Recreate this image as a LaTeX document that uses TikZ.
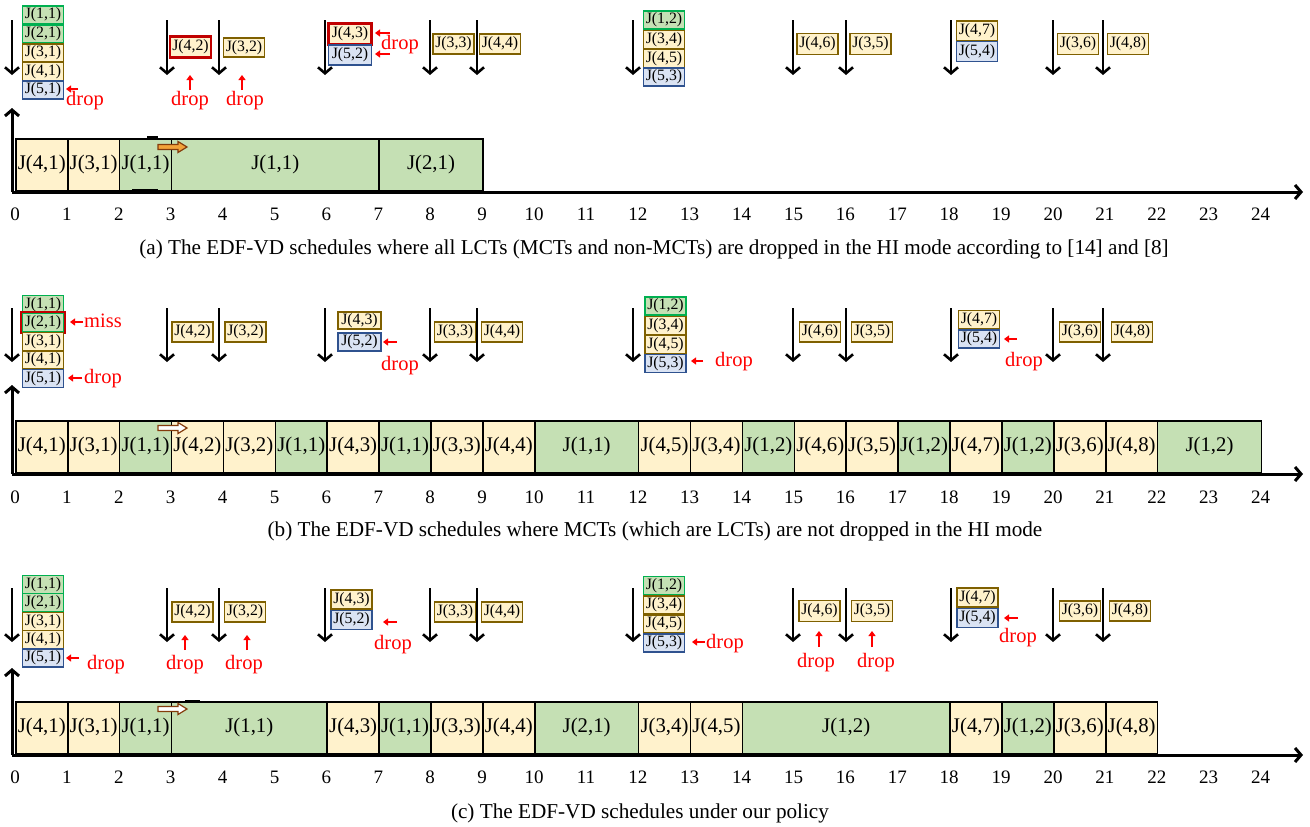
\documentclass[tikz,border=0pt]{standalone}
\usepackage{fontspec}
\setmainfont{Liberation Serif}
\usetikzlibrary{arrows.meta}
\definecolor{cgreen}{HTML}{00B050}
\definecolor{cbrown}{HTML}{7F6000}
\definecolor{cblue}{HTML}{2F528F}
\definecolor{cred}{HTML}{C00000}
\definecolor{fgreen}{HTML}{C5E0B4}
\definecolor{fyellow}{HTML}{FFF2CC}
\definecolor{fblue}{HTML}{DAE3F3}
\definecolor{dropred}{HTML}{FF0000}
\definecolor{horange}{HTML}{F2A33A}
\definecolor{hbrown}{HTML}{843C0C}
\tikzset{
  barbox/.style={draw=black, line width=1.6pt, inner sep=0pt, minimum height=52pt, font=\fontsize{20.8}{21}\selectfont},
  gbar/.style={barbox, fill=fgreen},
  ybar/.style={barbox, fill=fyellow},
  sb/.style={draw, line width=1.5pt, inner sep=0pt, minimum width=41pt, minimum height=18pt, font=\fontsize{15.8}{16}\selectfont},
  sg/.style={sb, draw=cgreen, fill=fgreen},
  sy/.style={sb, draw=cbrown, fill=fyellow},
  sbl/.style={sb, draw=cblue, fill=fblue},
  sr/.style={sb, draw=cred, fill=fyellow, line width=2.3pt},
  rel/.style={line width=2.6pt, -{Straight Barb[length=6pt,width=14pt]}},
  axisarr/.style={line width=3pt, -{Straight Barb[length=6pt,width=14pt]}},
  redarr/.style={draw=dropred, line width=2.4pt, -{Triangle[length=5pt,width=7pt]}},
  droptxt/.style={text=dropred, inner sep=0pt, font=\fontsize{20.5}{21}\selectfont},
  tick/.style={inner sep=0pt, font=\fontsize{19}{19}\selectfont},
  capt/.style={inner sep=0pt, font=\fontsize{21.2}{22}\selectfont},
  hiarr/.style={draw=hbrown, line width=1.2pt},
}
\newcommand\jobbar[6]{\node[#5,minimum width={(#3-#2)*51.9pt},anchor=north west] (#1) at ({15+51.9*#2},#4) {#6};}
\newcommand\relarrows[2]{\foreach \rx in {12,167,219,325,430,477,633,793,846,951,1053,1103} \draw[rel] (\rx,#1) -- (\rx,#2);}
\newcommand\hiarrow[2]{\draw[hiarr, fill=#2] (158,#1-2.5) -- (178,#1-2.5) -- (178,#1-5.5) -- (187,#1) -- (178,#1+5.5) -- (178,#1+2.5) -- (158,#1+2.5) -- cycle;}
\begin{document}
\begin{tikzpicture}[x=1pt,y=-1pt]
\useasboundingbox (0,0) rectangle (1310,827);
% ================= panel (a) =================
\relarrows{20}{75}
\node[sg] (a-s11) at (43,15) {J(1,1)};
\node[sg] (a-s21) at (43,34) {J(2,1)};
\node[sy] (a-s31) at (43,53) {J(3,1)};
\node[sy] (a-s41) at (43,71.5) {J(4,1)};
\node[sbl] (a-s51) at (43,90) {J(5,1)};
\coordinate (a-d1s) at (78,89); \coordinate (a-d1e) at (66,89);
\draw[redarr] (a-d1s) -- (a-d1e);
\node[droptxt] (a-d1) at (85,101) {drop};
\node[sr, minimum height=21pt] (a-s42) at (190.5,47) {J(4,2)};
\node[sy, minimum height=19pt] (a-s32) at (244,47.5) {J(3,2)};
\coordinate (a-u1s) at (190,90); \coordinate (a-u1e) at (190,75);
\coordinate (a-u2s) at (242,90); \coordinate (a-u2e) at (242,75);
\draw[redarr] (a-u1s) -- (a-u1e);
\draw[redarr] (a-u2s) -- (a-u2e);
\node[droptxt] (a-d2) at (190,101) {drop};
\node[droptxt] (a-d3) at (245,101) {drop};
\node[sr, minimum height=21pt, minimum width=43pt] (a-s43) at (350,34) {J(4,3)};
\node[sbl, minimum height=20pt, minimum width=43pt] (a-s52) at (350,55) {J(5,2)};
\coordinate (a-r1s) at (390,33); \coordinate (a-r1e) at (375,33);
\coordinate (a-r2s) at (390,54); \coordinate (a-r2e) at (375,54);
\draw[redarr] (a-r1s) -- (a-r1e);
\draw[redarr] (a-r2s) -- (a-r2e);
\node[droptxt] (a-d4) at (400,45) {drop};
\node[sy, minimum height=20pt] (a-s33) at (453.5,44) {J(3,3)};
\node[sy, minimum height=20pt] (a-s44) at (500,44) {J(4,4)};
\node[sg] (a-s12) at (664,20) {J(1,2)};
\node[sy] (a-s34) at (664,39.5) {J(3,4)};
\node[sy] (a-s45) at (664,58.5) {J(4,5)};
\node[sbl] (a-s53) at (664,77) {J(5,3)};
\node[sy, minimum height=21pt] (a-s46) at (817.5,44) {J(4,6)};
\node[sy, minimum height=21pt] (a-s35) at (870.5,44) {J(3,5)};
\node[sy, minimum height=20pt] (a-s47) at (977,31) {J(4,7)};
\node[sbl, minimum height=20pt] (a-s54) at (977,51.5) {J(5,4)};
\node[sy, minimum height=21pt] (a-s36) at (1078,44) {J(3,6)};
\node[sy, minimum height=21pt] (a-s48) at (1128,44) {J(4,8)};
% bars (a)
\jobbar{a1}{0}{1}{138}{ybar}{J(4,1)}
\jobbar{a2}{1}{2}{138}{ybar}{J(3,1)}
\jobbar{a3}{2}{3}{138}{gbar}{J(1,1)}
\jobbar{a4}{3}{7}{138}{gbar}{J(1,1)}
\jobbar{a5}{7}{9}{138}{gbar}{J(2,1)}
\draw[line width=3pt] (147,137.5) -- (158,137.5);
\draw[line width=3pt] (132,190) -- (158,190);
\hiarrow{147}{horange}
\coordinate (a-o) at (12,192); \coordinate (a-xe) at (1303,192); \coordinate (a-ye) at (12,108);
\draw[axisarr] (a-o) -- (a-xe);
\draw[axisarr] (a-o) -- (a-ye);
\foreach \t in {0,...,24} \node[tick] (a-t\t) at ({15+51.9*\t},214) {\t};
\node[capt] (a-cap) at (654,249) {(a) The EDF-VD schedules where all LCTs (MCTs and non-MCTs) are dropped in the HI mode according to [14] and [8]};
% ================= panel (b) =================
\relarrows{308}{362}
\node[sg] (b-s11) at (43,304.5) {J(1,1)};
\draw[cred, line width=1.2pt] (21,312) rectangle (65,333);
\node[sg] (b-s21) at (43,322.5) {J(2,1)};
\node[sy] (b-s31) at (43,341.5) {J(3,1)};
\node[sy] (b-s41) at (43,360) {J(4,1)};
\node[sbl] (b-s51) at (43,378.5) {J(5,1)};
\coordinate (b-m1s) at (83,322); \coordinate (b-m1e) at (70,322);
\draw[redarr] (b-m1s) -- (b-m1e);
\node[droptxt, anchor=west] (b-miss) at (84,321) {miss};
\coordinate (b-d1s) at (82,378); \coordinate (b-d1e) at (68,378);
\draw[redarr] (b-d1s) -- (b-d1e);
\node[droptxt, anchor=west] (b-d1) at (84,379) {drop};
\node[sy, minimum height=20pt] (b-s42) at (192.5,332) {J(4,2)};
\node[sy, minimum height=20pt] (b-s32) at (245.5,332) {J(3,2)};
\node[sy, minimum height=17pt, minimum width=43pt] (b-s43) at (359.5,320.5) {J(4,3)};
\node[sbl, minimum width=43pt] (b-s52) at (359.5,342) {J(5,2)};
\coordinate (b-r1s) at (397,342); \coordinate (b-r1e) at (383,342);
\draw[redarr] (b-r1s) -- (b-r1e);
\node[droptxt] (b-d2) at (400,366) {drop};
\node[sy, minimum height=20pt] (b-s33) at (455,332) {J(3,3)};
\node[sy, minimum height=20pt] (b-s44) at (502,332) {J(4,4)};
\node[sg] (b-s12) at (665.5,306) {J(1,2)};
\node[sy] (b-s34) at (665.5,325.5) {J(3,4)};
\node[sy] (b-s45) at (665.5,344.5) {J(4,5)};
\node[sbl] (b-s53) at (665.5,363.5) {J(5,3)};
\coordinate (b-r2s) at (703,361); \coordinate (b-r2e) at (691,361);
\draw[redarr] (b-r2s) -- (b-r2e);
\node[droptxt, anchor=west] (b-d3) at (715,362) {drop};
\node[sy, minimum height=20pt] (b-s46) at (820,332) {J(4,6)};
\node[sy, minimum height=20pt] (b-s35) at (872,332) {J(3,5)};
\node[sy] (b-s47) at (979,319.5) {J(4,7)};
\node[sbl] (b-s54) at (979,339) {J(5,4)};
\coordinate (b-r3s) at (1017,339); \coordinate (b-r3e) at (1004,339);
\draw[redarr] (b-r3s) -- (b-r3e);
\node[droptxt] (b-d4) at (1024,362) {drop};
\node[sy, minimum height=20pt] (b-s36) at (1080,332) {J(3,6)};
\node[sy, minimum height=20pt] (b-s48) at (1132,332) {J(4,8)};
% bars (b)
\jobbar{b1}{0}{1}{420}{ybar}{J(4,1)}
\jobbar{b2}{1}{2}{420}{ybar}{J(3,1)}
\jobbar{b3}{2}{3}{420}{gbar}{J(1,1)}
\jobbar{b4}{3}{4}{420}{ybar}{J(4,2)}
\jobbar{b5}{4}{5}{420}{ybar}{J(3,2)}
\jobbar{b6}{5}{6}{420}{gbar}{J(1,1)}
\jobbar{b7}{6}{7}{420}{ybar}{J(4,3)}
\jobbar{b8}{7}{8}{420}{gbar}{J(1,1)}
\jobbar{b9}{8}{9}{420}{ybar}{J(3,3)}
\jobbar{b10}{9}{10}{420}{ybar}{J(4,4)}
\jobbar{b11}{10}{12}{420}{gbar}{J(1,1)}
\jobbar{b12}{12}{13}{420}{ybar}{J(4,5)}
\jobbar{b13}{13}{14}{420}{ybar}{J(3,4)}
\jobbar{b14}{14}{15}{420}{gbar}{J(1,2)}
\jobbar{b15}{15}{16}{420}{ybar}{J(4,6)}
\jobbar{b16}{16}{17}{420}{ybar}{J(3,5)}
\jobbar{b17}{17}{18}{420}{gbar}{J(1,2)}
\jobbar{b18}{18}{19}{420}{ybar}{J(4,7)}
\jobbar{b19}{19}{20}{420}{gbar}{J(1,2)}
\jobbar{b20}{20}{21}{420}{ybar}{J(3,6)}
\jobbar{b21}{21}{22}{420}{ybar}{J(4,8)}
\jobbar{b22}{22}{24}{420}{gbar}{J(1,2)}
\hiarrow{428}{white}
\coordinate (b-o) at (12,474); \coordinate (b-xe) at (1303,474); \coordinate (b-ye) at (12,385);
\draw[axisarr] (b-o) -- (b-xe);
\draw[axisarr] (b-o) -- (b-ye);
\foreach \t in {0,...,24} \node[tick] (b-t\t) at ({15+51.9*\t},497) {\t};
\node[capt] (b-cap) at (655,531) {(b) The EDF-VD schedules where MCTs (which are LCTs) are not dropped in the HI mode};
% ================= panel (c) =================
\relarrows{588}{642}
\node[sg] (c-s11) at (43,584.5) {J(1,1)};
\node[sg] (c-s21) at (43,602.5) {J(2,1)};
\node[sy] (c-s31) at (43,621.5) {J(3,1)};
\node[sy] (c-s41) at (43,639.5) {J(4,1)};
\node[sbl] (c-s51) at (43,658) {J(5,1)};
\coordinate (c-d1s) at (79,658); \coordinate (c-d1e) at (66,658);
\draw[redarr] (c-d1s) -- (c-d1e);
\node[droptxt] (c-d1) at (106,665) {drop};
\node[sy, minimum height=20pt] (c-s42) at (192.5,612) {J(4,2)};
\node[sy, minimum height=20pt] (c-s32) at (245,612) {J(3,2)};
\coordinate (c-u1s) at (185,650); \coordinate (c-u1e) at (185,635);
\coordinate (c-u2s) at (247,650); \coordinate (c-u2e) at (247,635);
\draw[redarr] (c-u1s) -- (c-u1e);
\draw[redarr] (c-u2s) -- (c-u2e);
\node[droptxt] (c-d2) at (185,665) {drop};
\node[droptxt] (c-d3) at (244,665) {drop};
\node[sy, minimum height=19pt] (c-s43) at (351.5,599.5) {J(4,3)};
\node[sbl, minimum height=19pt] (c-s52) at (351.5,620) {J(5,2)};
\coordinate (c-r1s) at (397,622); \coordinate (c-r1e) at (383,622);
\draw[redarr] (c-r1s) -- (c-r1e);
\node[droptxt] (c-d4) at (393,645) {drop};
\node[sy, minimum height=20pt] (c-s33) at (455,612) {J(3,3)};
\node[sy, minimum height=20pt] (c-s44) at (502,612) {J(4,4)};
\node[sg] (c-s12) at (664,585.5) {J(1,2)};
\node[sy] (c-s34) at (664,605) {J(3,4)};
\node[sy] (c-s45) at (664,624) {J(4,5)};
\node[sbl] (c-s53) at (664,643) {J(5,3)};
\coordinate (c-r2s) at (705,642); \coordinate (c-r2e) at (692,642);
\draw[redarr] (c-r2s) -- (c-r2e);
\node[droptxt, anchor=west] (c-d5) at (706,644) {drop};
\node[sy, minimum height=21pt] (c-s46) at (819.5,611) {J(4,6)};
\node[sy, minimum height=21pt] (c-s35) at (872,611) {J(3,5)};
\coordinate (c-u3s) at (819,647); \coordinate (c-u3e) at (819,631);
\coordinate (c-u4s) at (872,647); \coordinate (c-u4e) at (872,631);
\draw[redarr] (c-u3s) -- (c-u3e);
\draw[redarr] (c-u4s) -- (c-u4e);
\node[droptxt] (c-d6) at (816,663) {drop};
\node[droptxt] (c-d7) at (876,663) {drop};
\node[sy, minimum height=19pt] (c-s47) at (977.5,597.5) {J(4,7)};
\node[sbl, minimum height=19pt] (c-s54) at (977.5,618) {J(5,4)};
\coordinate (c-r3s) at (1018,618); \coordinate (c-r3e) at (1004,618);
\draw[redarr] (c-r3s) -- (c-r3e);
\node[droptxt] (c-d8) at (1018,638) {drop};
\node[sy, minimum height=20pt] (c-s36) at (1080,611) {J(3,6)};
\node[sy, minimum height=20pt] (c-s48) at (1130,611) {J(4,8)};
% bars (c)
\jobbar{c1}{0}{1}{701}{ybar}{J(4,1)}
\jobbar{c2}{1}{2}{701}{ybar}{J(3,1)}
\jobbar{c3}{2}{3}{701}{gbar}{J(1,1)}
\jobbar{c4}{3}{6}{701}{gbar}{J(1,1)}
\jobbar{c5}{6}{7}{701}{ybar}{J(4,3)}
\jobbar{c6}{7}{8}{701}{gbar}{J(1,1)}
\jobbar{c7}{8}{9}{701}{ybar}{J(3,3)}
\jobbar{c8}{9}{10}{701}{ybar}{J(4,4)}
\jobbar{c9}{10}{12}{701}{gbar}{J(2,1)}
\jobbar{c10}{12}{13}{701}{ybar}{J(3,4)}
\jobbar{c11}{13}{14}{701}{ybar}{J(4,5)}
\jobbar{c12}{14}{18}{701}{gbar}{J(1,2)}
\jobbar{c13}{18}{19}{701}{ybar}{J(4,7)}
\jobbar{c14}{19}{20}{701}{gbar}{J(1,2)}
\jobbar{c15}{20}{21}{701}{ybar}{J(3,6)}
\jobbar{c16}{21}{22}{701}{ybar}{J(4,8)}
\draw[line width=3pt] (185,701) -- (200,701);
\hiarrow{709}{white}
\coordinate (c-o) at (12,755); \coordinate (c-xe) at (1303,755); \coordinate (c-ye) at (12,668);
\draw[axisarr] (c-o) -- (c-xe);
\draw[axisarr] (c-o) -- (c-ye);
\foreach \t in {0,...,24} \node[tick] (c-t\t) at ({15+51.9*\t},777) {\t};
\node[capt] (c-cap) at (640,813) {(c) The EDF-VD schedules under our policy};
\end{tikzpicture}
\end{document}
